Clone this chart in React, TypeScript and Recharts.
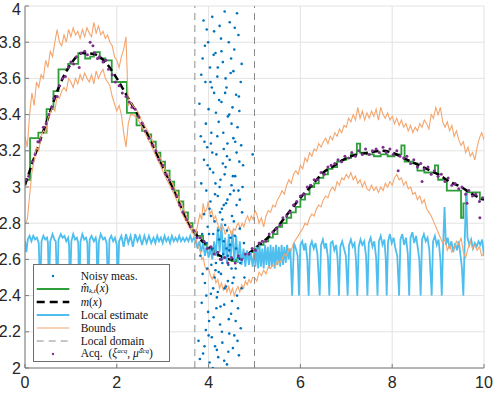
import React from "react"
import {
  ComposedChart,
  Line,
  Scatter,
  XAxis,
  YAxis,
  CartesianGrid,
  ReferenceLine,
} from "recharts"

type Pt = [number, number]

const X_TICKS = [0, 2, 4, 6, 8, 10]
const Y_TICKS = [2, 2.2, 2.4, 2.6, 2.8, 3, 3.2, 3.4, 3.6, 3.8, 4]
const DOMAIN_LEFT = 3.7
const DOMAIN_RIGHT = 5.0

// true function m(x)
const M_TRUE: Pt[] = [
  [0, 3.01], [0.25, 3.2], [0.5, 3.38], [0.75, 3.56], [1.0, 3.68], [1.25, 3.74], [1.5, 3.735],
  [1.75, 3.69], [2.0, 3.6], [2.25, 3.49], [2.5, 3.38], [2.75, 3.25], [3.0, 3.11], [3.25, 2.98],
  [3.5, 2.83], [3.75, 2.73], [4.0, 2.67], [4.25, 2.62], [4.5, 2.6], [4.75, 2.61], [5.0, 2.66],
  [5.25, 2.71], [5.5, 2.78], [5.75, 2.86], [6.0, 2.94], [6.25, 3.01], [6.5, 3.08], [6.75, 3.12],
  [7.0, 3.16], [7.25, 3.18], [7.5, 3.19], [7.75, 3.2], [8.0, 3.19], [8.25, 3.16], [8.5, 3.13],
  [8.75, 3.1], [9.0, 3.07], [9.25, 3.03], [9.5, 3.0], [9.75, 2.96], [10, 2.93],
]

// estimate m_hat (piecewise constant)
const M_HAT: Pt[] = [
  [0, 3.04], [0.11, 3.27], [0.29, 3.3], [0.47, 3.43], [0.62, 3.53], [0.73, 3.65], [0.94, 3.68],
  [1.16, 3.74], [1.31, 3.71], [1.42, 3.72], [1.5, 3.745], [1.63, 3.71], [1.75, 3.7], [1.89, 3.58],
  [2.22, 3.41], [2.43, 3.34], [2.55, 3.31], [2.65, 3.29], [2.75, 3.25], [2.85, 3.19], [2.95, 3.14],
  [3.05, 3.09], [3.15, 3.03], [3.25, 2.98], [3.35, 2.92], [3.45, 2.86], [3.55, 2.8], [3.65, 2.75],
  [3.75, 2.73], [3.88, 2.68], [3.96, 2.66], [4.04, 2.65], [4.12, 2.63], [4.2, 2.62], [4.3, 2.61],
  [4.4, 2.6], [4.5, 2.59], [4.6, 2.6], [4.7, 2.61], [4.8, 2.62], [4.9, 2.64], [5.0, 2.66],
  [5.1, 2.68], [5.2, 2.7], [5.3, 2.72], [5.4, 2.74], [5.5, 2.78], [5.6, 2.8], [5.7, 2.83],
  [5.8, 2.86], [5.9, 2.89], [6.0, 2.93], [6.1, 2.96], [6.2, 3.0], [6.3, 3.02], [6.4, 3.05],
  [6.5, 3.07], [6.6, 3.1], [6.7, 3.11], [6.8, 3.14], [6.9, 3.15], [7.0, 3.16], [7.1, 3.18],
  [7.23, 3.24], [7.3, 3.19], [7.45, 3.18], [7.6, 3.17], [7.75, 3.18], [7.9, 3.17], [8.05, 3.18],
  [8.2, 3.23], [8.27, 3.14], [8.45, 3.13], [8.55, 3.09], [8.7, 3.08], [8.93, 3.12], [9.0, 3.04],
  [9.19, 2.98], [9.5, 2.83], [9.55, 2.91], [9.62, 2.97], [9.91, 2.93], [10, 2.93],
]

const LOCAL_EST: Pt[] = [
  [0, 2.7], [0.03, 2.64], [0.06, 2.71], [0.1, 2.73], [0.14, 2.7], [0.18, 2.73], [0.22, 2.71],
  [0.26, 2.72], [0.3, 2.69], [0.33, 2.42], [0.36, 2.7], [0.4, 2.73], [0.44, 2.71], [0.48, 2.72],
  [0.5, 2.69], [0.52, 2.42], [0.55, 2.7], [0.6, 2.74], [0.64, 2.71], [0.67, 2.7], [0.7, 2.42],
  [0.73, 2.71], [0.78, 2.74], [0.82, 2.72], [0.86, 2.73], [0.9, 2.7], [0.94, 2.72], [0.96, 2.68],
  [0.98, 2.42], [1.01, 2.7], [1.05, 2.74], [1.09, 2.71], [1.13, 2.72], [1.16, 2.69], [1.18, 2.42],
  [1.21, 2.7], [1.25, 2.74], [1.29, 2.71], [1.33, 2.72], [1.36, 2.69], [1.38, 2.42], [1.41, 2.71],
  [1.45, 2.73], [1.5, 2.7], [1.54, 2.72], [1.56, 2.69], [1.58, 2.42], [1.61, 2.7], [1.65, 2.74],
  [1.7, 2.71], [1.74, 2.72], [1.78, 2.69], [1.81, 2.42], [1.84, 2.71], [1.88, 2.73], [1.92, 2.7],
  [1.96, 2.72], [2.0, 2.68], [2.02, 2.42], [2.05, 2.7], [2.1, 2.73], [2.15, 2.67], [2.2, 2.74],
  [2.25, 2.69], [2.3, 2.73], [2.35, 2.67], [2.4, 2.74], [2.45, 2.7], [2.5, 2.73], [2.55, 2.68],
  [2.6, 2.73], [2.65, 2.69], [2.7, 2.73], [2.75, 2.69], [2.8, 2.72], [2.84, 2.69], [2.88, 2.73],
  [2.92, 2.7], [2.96, 2.72], [3.0, 2.69], [3.04, 2.73], [3.08, 2.7], [3.12, 2.72], [3.16, 2.69],
  [3.2, 2.73], [3.24, 2.7], [3.28, 2.72], [3.32, 2.7], [3.36, 2.73], [3.4, 2.7], [3.44, 2.72],
  [3.48, 2.7], [3.52, 2.72], [3.56, 2.7], [3.6, 2.73], [3.64, 2.7], [3.68, 2.72], [3.72, 2.7],
  [3.76, 2.66], [3.8, 2.7], [3.84, 2.64], [3.88, 2.69], [3.92, 2.62], [3.96, 2.67], [4.0, 2.61],
  [4.04, 2.66], [4.08, 2.6], [4.12, 2.7], [4.16, 2.62], [4.2, 2.78], [4.24, 2.64], [4.28, 2.8],
  [4.32, 2.6], [4.36, 2.72], [4.4, 2.58], [4.44, 2.74], [4.48, 2.6], [4.52, 2.76], [4.56, 2.59],
  [4.6, 2.73], [4.64, 2.58], [4.68, 2.7], [4.72, 2.57], [4.76, 2.66], [4.8, 2.56], [4.84, 2.65],
  [4.88, 2.57], [4.92, 2.64], [4.96, 2.56], [5.0, 2.65], [5.02, 2.56], [5.05, 2.67], [5.08, 2.55],
  [5.11, 2.68], [5.14, 2.56], [5.17, 2.66], [5.2, 2.55], [5.23, 2.68], [5.26, 2.57], [5.29, 2.67],
  [5.32, 2.55], [5.35, 2.68], [5.38, 2.56], [5.41, 2.67], [5.44, 2.55], [5.47, 2.68], [5.5, 2.57],
  [5.53, 2.67], [5.56, 2.56], [5.59, 2.68], [5.62, 2.57], [5.65, 2.67], [5.68, 2.58], [5.71, 2.68],
  [5.74, 2.6], [5.78, 2.66], [5.82, 2.4], [5.86, 2.69], [5.9, 2.66], [5.94, 2.62], [5.97, 2.4],
  [6.0, 2.68], [6.04, 2.7], [6.08, 2.65], [6.11, 2.69], [6.15, 2.6], [6.18, 2.4], [6.21, 2.67],
  [6.25, 2.7], [6.29, 2.66], [6.33, 2.69], [6.37, 2.63], [6.42, 2.4], [6.45, 2.68], [6.49, 2.71],
  [6.53, 2.66], [6.56, 2.69], [6.6, 2.61], [6.63, 2.4], [6.66, 2.69], [6.7, 2.7], [6.74, 2.65],
  [6.78, 2.68], [6.81, 2.6], [6.84, 2.4], [6.87, 2.67], [6.91, 2.7], [6.95, 2.66], [6.99, 2.62],
  [7.03, 2.4], [7.06, 2.68], [7.1, 2.71], [7.14, 2.67], [7.18, 2.69], [7.21, 2.6], [7.24, 2.4],
  [7.27, 2.67], [7.31, 2.71], [7.35, 2.68], [7.39, 2.7], [7.43, 2.62], [7.46, 2.4], [7.49, 2.69],
  [7.53, 2.72], [7.57, 2.67], [7.61, 2.7], [7.65, 2.61], [7.68, 2.4], [7.71, 2.7], [7.75, 2.73],
  [7.79, 2.68], [7.83, 2.71], [7.86, 2.6], [7.88, 2.4], [7.91, 2.7], [7.95, 2.74], [7.99, 2.69],
  [8.03, 2.72], [8.07, 2.66], [8.11, 2.62], [8.15, 2.4], [8.18, 2.71], [8.22, 2.74], [8.26, 2.68],
  [8.3, 2.72], [8.34, 2.63], [8.37, 2.4], [8.4, 2.72], [8.44, 2.75], [8.48, 2.69], [8.52, 2.73],
  [8.56, 2.66], [8.59, 2.6], [8.62, 2.4], [8.65, 2.71], [8.69, 2.74], [8.73, 2.7], [8.77, 2.72],
  [8.81, 2.65], [8.86, 2.4], [8.89, 2.7], [8.93, 2.73], [8.97, 2.68], [9.01, 2.71], [9.05, 2.6],
  [9.08, 2.4], [9.11, 2.68], [9.14, 2.89], [9.17, 2.68], [9.21, 2.72], [9.25, 2.66], [9.29, 2.7],
  [9.33, 2.64], [9.37, 2.69], [9.41, 2.65], [9.45, 2.7], [9.49, 2.62], [9.52, 2.55], [9.55, 2.4],
  [9.58, 2.7], [9.61, 2.97], [9.64, 2.72], [9.68, 2.68], [9.72, 2.71], [9.76, 2.66], [9.8, 2.69],
  [9.84, 2.67], [9.88, 2.7], [9.92, 2.68], [9.96, 2.71], [10, 2.62],
]

const BOUND_UP: Pt[] = [
  [0, 3.28], [0.05, 3.22], [0.1, 3.4], [0.15, 3.52], [0.2, 3.45], [0.25, 3.58], [0.3, 3.55],
  [0.35, 3.62], [0.4, 3.6], [0.45, 3.7], [0.5, 3.66], [0.55, 3.75], [0.6, 3.72], [0.65, 3.8],
  [0.7, 3.87], [0.75, 3.8], [0.8, 3.78], [0.85, 3.84], [0.9, 3.8], [0.95, 3.87], [1.0, 3.83],
  [1.05, 3.88], [1.1, 3.84], [1.15, 3.86], [1.2, 3.82], [1.25, 3.87], [1.3, 3.83], [1.35, 3.88],
  [1.4, 3.85], [1.45, 3.83], [1.5, 3.91], [1.55, 3.85], [1.6, 3.89], [1.65, 3.84], [1.7, 3.86],
  [1.75, 3.82], [1.8, 3.84], [1.85, 3.8], [1.9, 3.78], [1.95, 3.72], [2.0, 3.7], [2.05, 3.66],
  [2.1, 3.72], [2.15, 3.76], [2.2, 3.83], [2.25, 3.45], [2.3, 3.47], [2.35, 3.45], [2.45, 3.42],
  [2.55, 3.36], [2.65, 3.32], [2.75, 3.27], [2.85, 3.21], [2.95, 3.16], [3.05, 3.1], [3.15, 3.05],
  [3.25, 3.0], [3.35, 2.94], [3.45, 2.88], [3.55, 2.82], [3.65, 2.77], [3.72, 2.74], [3.77, 2.8],
  [3.81, 2.85], [3.85, 2.82], [3.88, 2.91], [3.92, 2.86], [3.96, 2.88], [3.99, 2.92], [4.03, 2.85],
  [4.07, 2.87], [4.11, 2.82], [4.15, 2.84], [4.18, 2.81], [4.22, 2.78], [4.25, 2.76], [4.29, 2.79],
  [4.33, 2.77], [4.36, 2.74], [4.39, 2.75], [4.43, 2.78], [4.47, 2.76], [4.5, 2.73], [4.54, 2.77],
  [4.58, 2.76], [4.62, 2.79], [4.65, 2.8], [4.69, 2.77], [4.73, 2.8], [4.77, 2.78], [4.81, 2.82],
  [4.85, 2.84], [4.89, 2.81], [4.93, 2.84], [4.97, 2.82], [5.01, 2.87], [5.05, 2.85], [5.1, 2.8],
  [5.15, 2.83], [5.2, 2.78], [5.25, 2.84], [5.3, 2.87], [5.35, 2.86], [5.4, 2.9], [5.45, 2.89],
  [5.5, 2.93], [5.55, 2.95], [5.6, 2.98], [5.65, 2.96], [5.7, 3.01], [5.75, 3.04], [5.8, 3.02],
  [5.85, 3.07], [5.9, 3.09], [5.95, 3.07], [6.0, 3.12], [6.05, 3.1], [6.1, 3.16], [6.15, 3.14],
  [6.2, 3.19], [6.25, 3.17], [6.3, 3.21], [6.35, 3.2], [6.4, 3.24], [6.45, 3.22], [6.5, 3.25],
  [6.55, 3.27], [6.6, 3.24], [6.65, 3.28], [6.7, 3.26], [6.75, 3.3], [6.8, 3.28], [6.85, 3.32],
  [6.9, 3.3], [6.95, 3.34], [7.0, 3.33], [7.05, 3.38], [7.1, 3.36], [7.15, 3.4], [7.2, 3.37],
  [7.25, 3.44], [7.3, 3.38], [7.35, 3.42], [7.4, 3.37], [7.45, 3.41], [7.5, 3.38], [7.55, 3.42],
  [7.6, 3.39], [7.65, 3.43], [7.7, 3.37], [7.75, 3.44], [7.8, 3.4], [7.85, 3.38], [7.9, 3.41],
  [7.95, 3.37], [8.0, 3.39], [8.05, 3.35], [8.1, 3.38], [8.15, 3.34], [8.2, 3.37], [8.25, 3.33],
  [8.3, 3.35], [8.35, 3.31], [8.4, 3.34], [8.45, 3.3], [8.5, 3.33], [8.55, 3.31], [8.6, 3.35],
  [8.65, 3.33], [8.7, 3.37], [8.75, 3.35], [8.8, 3.32], [8.85, 3.4], [8.9, 3.38], [8.95, 3.44],
  [9.0, 3.4], [9.05, 3.44], [9.1, 3.36], [9.15, 3.33], [9.2, 3.36], [9.25, 3.31], [9.3, 3.34],
  [9.35, 3.28], [9.4, 3.31], [9.45, 3.26], [9.5, 3.23], [9.55, 3.25], [9.6, 3.19], [9.65, 3.22],
  [9.7, 3.17], [9.75, 3.19], [9.8, 3.15], [9.85, 3.22], [9.9, 3.27], [9.95, 3.3], [10, 3.26],
]

const BOUND_LO: Pt[] = [
  [0, 2.8], [0.05, 2.82], [0.1, 2.95], [0.15, 3.08], [0.2, 3.15], [0.25, 3.22], [0.3, 3.2],
  [0.35, 3.28], [0.4, 3.31], [0.45, 3.3], [0.5, 3.38], [0.55, 3.41], [0.6, 3.44], [0.65, 3.42],
  [0.7, 3.5], [0.75, 3.49], [0.8, 3.53], [0.85, 3.55], [0.9, 3.53], [0.95, 3.6], [1.0, 3.58],
  [1.05, 3.55], [1.1, 3.6], [1.15, 3.57], [1.2, 3.62], [1.25, 3.59], [1.3, 3.63], [1.35, 3.6],
  [1.4, 3.58], [1.45, 3.62], [1.5, 3.57], [1.55, 3.64], [1.6, 3.6], [1.65, 3.63], [1.7, 3.65],
  [1.75, 3.6], [1.8, 3.58], [1.85, 3.56], [1.9, 3.5], [1.95, 3.46], [2.0, 3.42], [2.05, 3.45],
  [2.1, 3.4], [2.15, 3.3], [2.2, 3.22], [2.25, 3.35], [2.3, 3.4], [2.35, 3.4], [2.45, 3.38],
  [2.55, 3.33], [2.65, 3.28], [2.75, 3.23], [2.85, 3.17], [2.95, 3.12], [3.05, 3.06], [3.15, 3.01],
  [3.25, 2.96], [3.35, 2.9], [3.45, 2.84], [3.55, 2.79], [3.65, 2.75], [3.72, 2.72], [3.75, 2.69],
  [3.78, 2.67], [3.82, 2.64], [3.85, 2.6], [3.88, 2.61], [3.92, 2.56], [3.96, 2.54], [4.0, 2.55],
  [4.04, 2.51], [4.08, 2.49], [4.12, 2.52], [4.16, 2.47], [4.2, 2.49], [4.24, 2.44], [4.28, 2.47],
  [4.32, 2.43], [4.36, 2.46], [4.4, 2.42], [4.44, 2.45], [4.48, 2.41], [4.52, 2.44], [4.56, 2.4],
  [4.6, 2.43], [4.64, 2.45], [4.68, 2.42], [4.72, 2.46], [4.76, 2.44], [4.8, 2.48], [4.84, 2.46],
  [4.88, 2.49], [4.92, 2.47], [4.96, 2.5], [5.0, 2.5], [5.05, 2.48], [5.1, 2.53], [5.15, 2.51],
  [5.2, 2.54], [5.25, 2.52], [5.3, 2.56], [5.35, 2.55], [5.4, 2.57], [5.45, 2.56], [5.5, 2.59],
  [5.55, 2.58], [5.6, 2.6], [5.65, 2.63], [5.7, 2.62], [5.75, 2.66], [5.8, 2.65], [5.85, 2.69],
  [5.9, 2.71], [5.95, 2.73], [6.0, 2.75], [6.05, 2.77], [6.1, 2.8], [6.15, 2.79], [6.2, 2.83],
  [6.25, 2.85], [6.3, 2.84], [6.35, 2.88], [6.4, 2.9], [6.45, 2.89], [6.5, 2.93], [6.55, 2.95],
  [6.6, 2.94], [6.65, 2.98], [6.7, 3.0], [6.75, 2.98], [6.8, 3.03], [6.85, 3.01], [6.9, 3.05],
  [6.95, 3.04], [7.0, 3.07], [7.05, 3.05], [7.1, 3.08], [7.15, 3.04], [7.2, 3.06], [7.25, 3.02],
  [7.3, 3.04], [7.35, 3.0], [7.4, 3.03], [7.45, 2.99], [7.5, 2.98], [7.55, 3.01], [7.6, 2.98],
  [7.65, 3.0], [7.7, 2.97], [7.75, 3.0], [7.8, 2.98], [7.85, 3.02], [7.9, 3.0], [7.95, 3.03],
  [8.0, 3.01], [8.05, 3.05], [8.1, 3.07], [8.15, 3.04], [8.2, 3.05], [8.25, 3.01], [8.3, 3.03],
  [8.35, 2.99], [8.4, 3.0], [8.45, 2.96], [8.5, 2.97], [8.55, 2.93], [8.6, 2.95], [8.65, 2.91],
  [8.7, 2.93], [8.75, 2.88], [8.8, 2.86], [8.85, 2.84], [8.9, 2.81], [8.95, 2.78], [9.0, 2.75],
  [9.05, 2.72], [9.1, 2.69], [9.15, 2.71], [9.2, 2.65], [9.25, 2.68], [9.3, 2.64], [9.35, 2.66],
  [9.4, 2.7], [9.45, 2.68], [9.5, 2.72], [9.55, 2.64], [9.6, 2.61], [9.65, 2.66], [9.7, 2.7],
  [9.75, 2.66], [9.8, 2.68], [9.85, 2.65], [9.9, 2.67], [9.95, 2.62], [10, 2.63],
]

const NOISY: Pt[] = [
  [3.78, 2.15], [3.8, 3.46], [3.82, 2.62], [3.84, 3.02], [3.85, 2.36], [3.87, 3.71], [3.88, 2.08],
  [3.9, 2.85], [3.91, 3.25], [3.92, 2.47], [3.93, 3.58], [3.94, 2.21], [3.95, 2.98], [3.96, 3.87],
  [3.97, 2.55], [3.98, 3.12], [3.99, 2.31], [4.0, 3.43], [4.01, 2.74], [4.02, 2.03], [4.03, 3.66],
  [4.04, 2.92], [4.05, 2.41], [4.06, 3.3], [4.07, 2.17], [4.08, 3.94], [4.09, 2.66], [4.1, 3.08],
  [4.11, 2.28], [4.12, 3.52], [4.13, 2.81], [4.14, 2.12], [4.15, 3.74], [4.16, 2.58], [4.17, 3.18],
  [4.18, 2.39], [4.19, 3.61], [4.2, 2.95], [4.21, 2.06], [4.22, 3.36], [4.23, 2.71], [4.24, 3.89],
  [4.25, 2.24], [4.26, 3.04], [4.27, 2.52], [4.28, 3.47], [4.29, 2.88], [4.3, 2.14], [4.31, 3.69],
  [4.32, 2.63], [4.33, 3.21], [4.34, 2.35], [4.35, 3.97], [4.36, 2.79], [4.37, 3.11], [4.38, 2.45],
  [4.39, 3.55], [4.4, 2.02], [4.41, 2.93], [4.42, 3.39], [4.43, 2.57], [4.44, 3.8], [4.45, 2.19],
  [4.46, 3.15], [4.47, 2.68], [4.48, 3.63], [4.49, 2.3], [4.5, 3.01], [4.51, 2.84], [4.52, 3.44],
  [4.53, 2.11], [4.54, 3.27], [4.55, 2.5], [4.56, 3.76], [4.57, 2.73], [4.58, 3.06], [4.59, 2.26],
  [4.6, 3.51], [4.61, 2.9], [4.62, 2.4], [4.63, 3.33], [4.64, 2.61], [4.65, 3.84], [4.66, 2.07],
  [4.67, 3.14], [4.68, 2.77], [4.7, 3.58], [4.72, 2.44], [4.74, 3.0], [4.77, 2.69], [4.96, 3.18],
  [3.83, 3.28], [3.86, 2.74], [3.89, 3.92], [3.91, 2.12], [3.94, 3.35], [3.96, 2.69], [3.99, 3.8],
  [4.01, 2.26], [4.03, 3.1], [4.05, 2.84], [4.07, 3.55], [4.09, 2.0], [4.11, 3.73], [4.13, 2.5],
  [4.15, 3.02], [4.17, 2.33], [4.19, 3.28], [4.21, 2.76], [4.23, 3.48], [4.25, 2.6], [4.27, 3.82],
  [4.29, 2.2], [4.31, 3.13], [4.33, 2.9], [4.35, 2.44], [4.37, 3.6], [4.39, 2.66], [4.41, 3.24],
  [4.43, 2.09], [4.45, 3.4], [4.47, 2.96], [4.49, 3.71], [4.51, 2.37], [4.53, 3.06], [4.55, 2.81],
  [4.57, 3.88], [4.59, 2.55], [4.61, 3.19], [4.63, 2.15], [4.65, 2.98], [4.67, 3.42], [4.69, 2.58],
  [4.71, 3.23], [4.73, 2.86], [3.81, 2.05], [3.84, 3.62], [3.87, 2.52], [3.9, 3.15], [3.92, 3.78],
  [3.95, 2.4], [3.97, 3.22], [4.0, 2.18], [4.02, 2.88], [4.04, 3.58], [4.06, 2.57], [4.08, 3.19],
  [4.1, 2.44], [4.12, 3.86], [4.14, 2.96], [4.16, 3.41], [4.18, 2.1], [4.2, 3.66], [4.22, 2.53],
  [4.24, 3.0], [4.26, 2.34], [4.28, 3.75], [4.3, 2.82], [4.32, 3.3], [4.34, 2.04], [4.36, 3.52],
  [4.38, 2.91], [4.4, 3.17], [4.42, 2.62], [4.44, 2.27], [4.46, 3.91], [4.48, 2.72], [4.5, 3.35],
  [4.52, 2.47], [4.54, 3.64], [4.56, 2.18], [4.58, 3.25], [4.6, 2.66], [4.62, 3.96], [4.64, 2.33],
  [4.66, 3.5], [4.68, 2.93], [4.7, 2.22], [4.72, 3.68], [4.75, 3.12], [4.78, 2.5], [4.1, 2.74],
  [4.2, 2.42], [4.3, 2.58], [4.4, 2.76], [4.5, 2.55], [4.25, 2.86], [4.35, 3.07], [4.45, 2.65],
  [4.55, 2.98], [4.15, 2.54], [4.05, 3.24], [3.98, 2.78], [4.42, 2.48], [4.33, 2.7],
]

const ACQ: Pt[] = [
  [0.02, 3.04], [0.08, 3.06], [0.15, 3.14], [0.22, 3.18], [0.28, 3.25], [0.33, 3.26], [0.4, 3.33],
  [0.46, 3.35], [0.52, 3.4], [0.58, 3.44], [0.63, 3.49], [0.7, 3.5], [0.75, 3.56], [0.82, 3.6],
  [0.88, 3.61], [0.95, 3.66], [1.0, 3.69], [1.06, 3.68], [1.12, 3.72], [1.18, 3.66], [1.22, 3.74],
  [1.3, 3.75], [1.36, 3.73], [1.42, 3.8], [1.48, 3.78], [1.52, 3.74], [1.58, 3.71], [1.62, 3.72],
  [1.7, 3.69], [1.76, 3.7], [1.82, 3.65], [1.9, 3.62], [1.97, 3.58], [2.05, 3.56], [2.12, 3.52],
  [2.2, 3.5], [2.27, 3.47], [2.33, 3.44], [2.4, 3.43], [2.47, 3.39], [2.55, 3.35], [2.62, 3.31],
  [2.7, 3.27], [2.78, 3.23], [2.85, 3.2], [2.92, 3.15], [3.0, 3.12], [3.07, 3.07], [3.14, 3.04],
  [3.22, 2.99], [3.3, 2.95], [3.37, 2.9], [3.44, 2.86], [3.52, 2.82], [3.6, 2.78], [3.68, 2.76],
  [3.75, 2.72], [3.82, 2.72], [3.9, 2.7], [3.97, 2.66], [4.05, 2.67], [4.12, 2.63], [4.2, 2.64],
  [4.28, 2.6], [4.35, 2.61], [4.42, 2.58], [4.5, 2.61], [4.58, 2.58], [4.65, 2.62], [4.72, 2.6],
  [4.8, 2.63], [4.88, 2.63], [4.95, 2.66], [5.02, 2.65], [5.1, 2.69], [5.17, 2.7], [5.25, 2.7],
  [5.32, 2.74], [5.4, 2.75], [5.47, 2.77], [5.55, 2.79], [5.62, 2.83], [5.7, 2.84], [5.77, 2.86],
  [5.85, 2.9], [5.92, 2.92], [6.0, 2.95], [6.07, 2.96], [6.15, 3.0], [6.22, 3.01], [6.3, 3.04],
  [6.37, 3.04], [6.45, 3.08], [6.52, 3.07], [6.6, 3.11], [6.67, 3.12], [6.75, 3.13], [6.82, 3.15],
  [6.9, 3.14], [6.97, 3.17], [7.05, 3.16], [7.12, 3.19], [7.2, 3.17], [7.27, 3.2], [7.35, 3.18],
  [7.42, 3.21], [7.5, 3.18], [7.57, 3.2], [7.65, 3.21], [7.72, 3.19], [7.8, 3.22], [7.87, 3.19],
  [7.95, 3.21], [8.02, 3.18], [8.1, 3.2], [8.13, 3.09], [8.17, 3.17], [8.25, 3.16], [8.32, 3.17],
  [8.4, 3.13], [8.47, 3.15], [8.55, 3.11], [8.62, 3.13], [8.65, 3.03], [8.7, 3.1], [8.78, 3.11],
  [8.85, 3.07], [8.92, 3.09], [9.0, 3.06], [9.07, 3.07], [9.15, 3.03], [9.22, 3.05], [9.3, 3.01],
  [9.37, 3.02], [9.45, 2.99], [9.52, 3.0], [9.6, 2.96], [9.63, 2.91], [9.67, 2.98], [9.75, 2.95],
  [9.82, 2.96], [9.9, 2.92], [9.91, 2.83], [9.97, 2.94],
]

const C = {
  noisy: "#0072bd",
  hat: "#2e9e3a",
  m: "#000000",
  local: "#4dbeee",
  bounds: "#f4a66e",
  domain: "#8c8c8c",
  acq: "#7e2f8e",
  axis: "#7a7a7a",
  grid: "#e3e3e3",
  text: "#262626",
}

const toXY = (pts: Pt[]) => pts.map(([x, y]) => ({ x, y }))

const dot = (color: string, r: number) => (props: any) =>
  <circle cx={props.cx} cy={props.cy} r={r} fill={color} />

const tickStyle = { fontSize: 16, fontFamily: "'Liberation Sans', Arial, sans-serif", fill: C.text }

const ROW_H = 13

function LegendRow({ i, sample, children }: { i: number; sample: React.ReactNode; children: React.ReactNode }) {
  return (
    <div
      style={{
        position: "absolute",
        left: 0,
        top: 4.5 + i * ROW_H,
        height: ROW_H,
        display: "flex",
        alignItems: "center",
      }}
    >
      <svg width={46.7} height={12} style={{ flex: "none" }}>
        {sample}
      </svg>
      <span style={{ whiteSpace: "nowrap", lineHeight: "11px" }}>{children}</span>
    </div>
  )
}

function ChartLegend() {
  const low = { fontSize: 7, fontStyle: "italic" as const, position: "relative" as const, top: 1.2 }
  const high = { fontSize: 7, fontStyle: "italic" as const, position: "relative" as const, top: -3.5 }
  return (
    <div
      style={{
        position: "absolute",
        left: 33,
        top: 264,
        width: 135,
        height: 96,
        border: "1px solid #6e6e6e",
        background: "#fff",
        fontFamily: "'Liberation Serif', 'Times New Roman', serif",
        fontSize: 11.5,
        color: "#111",
      }}
    >
      <LegendRow i={0} sample={<circle cx={19} cy={6} r={1.2} fill={C.noisy} />}>
        Noisy meas.
      </LegendRow>
      <LegendRow i={1} sample={<line x1={2.7} x2={35.3} y1={6} y2={6} stroke={C.hat} strokeWidth={2} />}>
        <i>m̂</i>
        <span style={low}>k,t</span>(<i>x</i>)
      </LegendRow>
      <LegendRow
        i={2}
        sample={<line x1={2.7} x2={35.3} y1={6} y2={6} stroke={C.m} strokeWidth={2.5} strokeDasharray="8 5" />}
      >
        <i>m</i>(<i>x</i>)
      </LegendRow>
      <LegendRow i={3} sample={<line x1={2.7} x2={35.3} y1={6} y2={6} stroke={C.local} strokeWidth={2} />}>
        Local estimate
      </LegendRow>
      <LegendRow i={4} sample={<line x1={2.7} x2={35.3} y1={6} y2={6} stroke={C.bounds} strokeWidth={1.2} />}>
        Bounds
      </LegendRow>
      <LegendRow
        i={5}
        sample={<line x1={2.7} x2={35.3} y1={6} y2={6} stroke={C.domain} strokeWidth={1} strokeDasharray="7 5" />}
      >
        Local domain
      </LegendRow>
      <LegendRow i={6} sample={<circle cx={19} cy={6} r={1.2} fill={C.acq} />}>
        Acq. &nbsp;(<i>ξ</i>
        <span style={high}>acq</span>, <i>μ̂</i>
        <span style={high}>acq</span>)
      </LegendRow>
    </div>
  )
}

export default function App() {
  return (
    <div style={{ position: "absolute", left: 0, top: 0, width: 499, height: 393, background: "#fff" }}>
      <ComposedChart width={499} height={393} margin={{ top: 6, right: 15, bottom: 0, left: 0 }}>
        <CartesianGrid stroke={C.grid} strokeWidth={1} />
        <XAxis
          type="number"
          dataKey="x"
          domain={[0, 10]}
          ticks={X_TICKS}
          allowDataOverflow
          height={25}
          tickSize={-4}
          tickMargin={13}
          stroke={C.axis}
          tick={tickStyle}
        />
        <XAxis
          xAxisId="top"
          orientation="top"
          type="number"
          domain={[0, 10]}
          ticks={X_TICKS}
          allowDataOverflow
          height={0}
          tickSize={-4}
          tick={false}
          stroke={C.axis}
        />
        <YAxis
          type="number"
          domain={[2, 4]}
          ticks={Y_TICKS}
          allowDataOverflow
          width={25}
          tickSize={-4}
          tickMargin={8}
          stroke={C.axis}
          tick={tickStyle}
        />
        <YAxis
          yAxisId="right"
          orientation="right"
          type="number"
          domain={[2, 4]}
          ticks={Y_TICKS}
          allowDataOverflow
          width={0}
          tickSize={-4}
          tick={false}
          stroke={C.axis}
        />
        <Scatter data={toXY(NOISY)} dataKey="y" shape={dot(C.noisy, 1.3)} isAnimationActive={false} />
        <Line
          data={toXY(M_HAT)}
          dataKey="y"
          type="stepAfter"
          stroke={C.hat}
          strokeWidth={1.8}
          dot={false}
          activeDot={false}
          isAnimationActive={false}
        />
        <Line
          data={toXY(M_TRUE)}
          dataKey="y"
          type="monotone"
          stroke={C.m}
          strokeWidth={2.5}
          strokeDasharray="7 4"
          dot={false}
          activeDot={false}
          isAnimationActive={false}
        />
        <Line
          data={toXY(LOCAL_EST)}
          dataKey="y"
          type="linear"
          stroke={C.local}
          strokeWidth={1.8}
          dot={false}
          activeDot={false}
          isAnimationActive={false}
        />
        <Line
          data={toXY(BOUND_UP)}
          dataKey="y"
          type="linear"
          stroke={C.bounds}
          strokeWidth={1.1}
          dot={false}
          activeDot={false}
          isAnimationActive={false}
        />
        <Line
          data={toXY(BOUND_LO)}
          dataKey="y"
          type="linear"
          stroke={C.bounds}
          strokeWidth={1.1}
          dot={false}
          activeDot={false}
          isAnimationActive={false}
        />
        <ReferenceLine x={DOMAIN_LEFT} stroke={C.domain} strokeDasharray="7 5" />
        <ReferenceLine x={DOMAIN_RIGHT} stroke={C.domain} strokeDasharray="7 5" />
        <Scatter data={toXY(ACQ)} dataKey="y" shape={dot(C.acq, 1.5)} isAnimationActive={false} />
      </ComposedChart>
      <ChartLegend />
    </div>
  )
}
